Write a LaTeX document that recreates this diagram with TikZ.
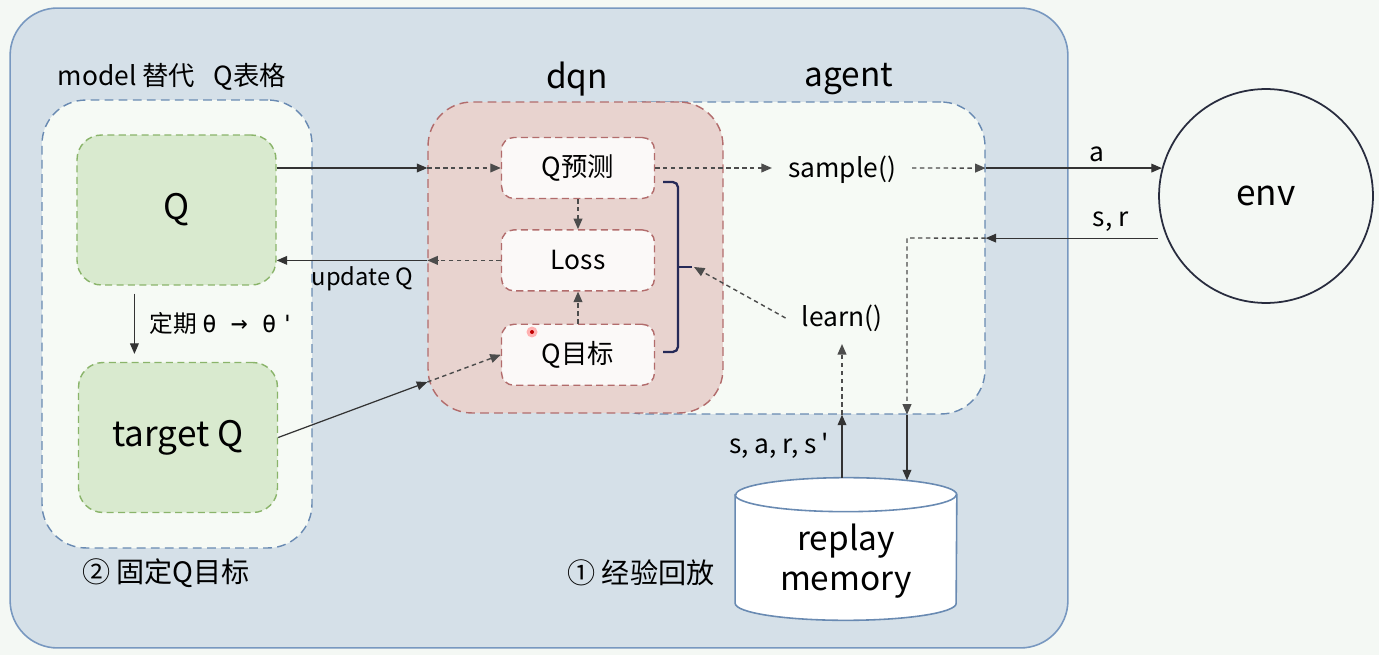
\documentclass[tikz,border=0pt]{standalone}
\usepackage{fontspec}
\setmainfont{Noto Sans CJK SC}
\newfontfamily\plainfont{Noto Sans CJK SC}
\newfontfamily\monofont{DejaVu Sans Mono}
\usepackage{tikz}
\usetikzlibrary{arrows.meta, calc, positioning}

\definecolor{pagebg}{RGB}{244,248,244}
\definecolor{outerfill}{RGB}{213,224,232}
\definecolor{outerline}{RGB}{120,152,192}
\definecolor{boxfill}{RGB}{246,250,245}
\definecolor{boxline}{RGB}{105,138,178}
\definecolor{qfill}{RGB}{217,234,207}
\definecolor{qline}{RGB}{138,180,106}
\definecolor{dqnfill}{RGB}{232,211,207}
\definecolor{dqnline}{RGB}{178,108,108}
\definecolor{cellfill}{RGB}{251,249,248}
\definecolor{bracecol}{RGB}{38,42,88}
\definecolor{envline}{RGB}{40,44,62}

\newcommand{\fbig}{\fontsize{20pt}{24pt}\selectfont}
\newcommand{\fhead}{\fontsize{19pt}{23pt}\selectfont}
\newcommand{\fmid}{\fontsize{15pt}{18pt}\selectfont}
\newcommand{\fsmall}{\fontsize{13.5pt}{16pt}\selectfont}
\newcommand{\apos}{{\plainfont\char"0027}}

\begin{document}
\begin{tikzpicture}[x=0.02cm, y=-0.02cm,
  outerbox/.style={draw=outerline, fill=outerfill, line width=0.9pt, rounded corners=27pt},
  dashbox/.style={draw=boxline, fill=boxfill, line width=0.8pt, dash pattern=on 5pt off 3pt, rounded corners=25pt},
  dqnbox/.style={draw=dqnline, fill=dqnfill, line width=0.8pt, dash pattern=on 5pt off 3pt, rounded corners=25pt},
  qbox/.style={draw=qline, fill=qfill, line width=0.8pt, dash pattern=on 4pt off 2.5pt, rounded corners=14pt,
    minimum width=3.98cm, minimum height=3cm, font=\fbig},
  cell/.style={draw=dqnline, fill=cellfill, line width=0.8pt, dash pattern=on 4pt off 2.5pt, rounded corners=7pt,
    minimum width=3.06cm, minimum height=1.22cm, font=\fmid},
  fn/.style={font=\fmid, inner xsep=9pt, inner ysep=7pt},
  solidarr/.style={draw=black!80, line width=0.7pt, -{Triangle[length=6pt, width=5pt]}},
  dotarr/.style={draw=black!70, line width=0.8pt, dash pattern=on 2.5pt off 2pt, -{Triangle[length=6pt, width=5pt]}},
  brace/.style={draw=bracecol, line width=1.3pt, rounded corners=3pt},
  drum/.style={draw=boxline, fill=white, line width=0.9pt}]

  % Page
  \fill[pagebg] (0,0) rectangle (1379,655);
  \useasboundingbox (0,0) rectangle (1379,655);

  % Containers
  \node[outerbox, minimum width=21.16cm, minimum height=12.8cm] (outer) at (539,328) {};
  \node[dashbox, minimum width=5.4cm, minimum height=8.96cm] (model) at (177,324) {};
  \node[dashbox, minimum width=7.7cm, minimum height=6.24cm] (agent) at (792.5,258) {};
  \node[dqnbox, minimum width=5.9cm, minimum height=6.22cm] (dqn) at (575.5,257.5) {};

  \node[font=\fmid] (modellbl) at (172,77) {model 替代\hspace{0.7em}Q表格};
  \node[font=\fhead] (dqnlbl) at (577,79) {dqn};
  \node[font=\fhead] (agentlbl) at (849,79) {agent};

  % Q networks
  \node[qbox] (q) at (176.5,210) {Q};
  \node[qbox] (tq) at (178,437.5) {target Q};

  % dqn cells
  \node[cell] (qpred) at (578,168) {Q预测};
  \node[cell, below=0.6cm of qpred] (loss) {Loss};
  \node[cell, below=0.64cm of loss] (qtgt) {Q目标};
  \fill[red!30] (532,332) circle (0.11cm);
  \fill[red!75!black] (532,332) circle (0.04cm);

  % Bracket
  \draw[brace] (663,182) -- (678,182) -- (678,352) -- (663,352);
  \draw[brace] (678,267) -- (692,267);
  \coordinate (brk) at (694,267);

  % agent functions
  \node[fn] (samp) at (842,170) {sample()};
  \node[fn] (learn) at (842,318) {learn()};

  % env
  \node[circle, draw=envline, fill=pagebg, line width=1pt, minimum size=4.28cm, font=\fbig] (env) at (1266,196) {env};

  % replay memory drum
  \node[minimum width=4.42cm, minimum height=2.84cm, inner sep=0pt] (mem) at (846,549) {};
  \draw[drum] ($(mem.north west)+(0,17)$) -- ($(mem.south west)+(0,-17)$)
    arc[start angle=180, end angle=360, x radius=2.21cm, y radius=0.34cm]
    -- ($(mem.north east)+(0,17)$)
    arc[start angle=0, end angle=180, x radius=2.21cm, y radius=0.34cm] -- cycle;
  \draw[drum, fill=none] ($(mem.north west)+(0,17)$)
    arc[start angle=180, end angle=360, x radius=2.21cm, y radius=0.34cm];
  \node[align=center, font=\fhead] (memtxt) at (846,561) {replay\\memory};

  % Notes
  \node[font=\fontsize{16pt}{19pt}\selectfont] (note2) at (166,573) {② 固定Q目标};
  \node[font=\fontsize{16pt}{19pt}\selectfont] (note1) at (641,573) {① 经验回放};

  % Q -> Q预测
  \draw[solidarr] (q.east |- qpred) -- (dqn.west |- qpred);
  \draw[dotarr] (dqn.west |- qpred) -- (qpred.west);

  % Loss -> Q
  \draw[dotarr] (loss.west) -- (dqn.west |- loss);
  \draw[solidarr] (dqn.west |- loss) -- node[below, pos=0.43, font=\fsmall] {update Q} (q.east |- loss);

  % Q -> target Q
  \coordinate (sync) at ($(q.south west)!0.29!(q.south east)$);
  \draw[solidarr, shorten <=4.5pt, shorten >=4.5pt] (sync) -- (sync |- tq.north)
    node[midway, right, xshift=5pt, font=\fsmall] {定期 {\monofont θ {\fontsize{16pt}{16pt}\selectfont →} θ\,\char"0027}};

  % target Q -> Q目标
  \coordinate (tqin) at ($(tq.east)!0.67!(qtgt.west)$);
  \draw[solidarr] (tq.east) -- (tqin);
  \draw[dotarr] (tqin) -- (qtgt.west);

  % inside dqn
  \draw[dotarr] (qpred) -- (loss);
  \draw[dotarr] (qtgt) -- (loss);

  % action
  \draw[dotarr] (qpred.east) -- (samp.west |- qpred);
  \draw[dotarr] (samp.east |- qpred) -- (agent.east |- env.165);
  \draw[solidarr] (agent.east |- env.165) -- node[above, pos=0.63, font=\fmid] {a} (env.165);

  % observation
  \coordinate (drop) at (907,238);
  \draw[solidarr, shorten <=5pt] (env.203) -- node[above, pos=0.31, font=\fmid] {s, r} (agent.east |- env.203);
  \draw[dotarr] (agent.east |- env.203) -- (drop) -- (drop |- agent.south);
  \draw[solidarr, shorten >=-1.5pt] (drop |- agent.south) -- (drop |- mem.north);

  % replay
  \draw[solidarr] (learn |- mem.north) -- (learn |- agent.south)
    node[midway, left, xshift=-4pt, font=\fmid] {s, a, r, s\,\apos};
  \draw[dotarr] (learn |- agent.south) -- (learn.south);
  \draw[dotarr] (learn.west) -- (brk);
\end{tikzpicture}
\end{document}
